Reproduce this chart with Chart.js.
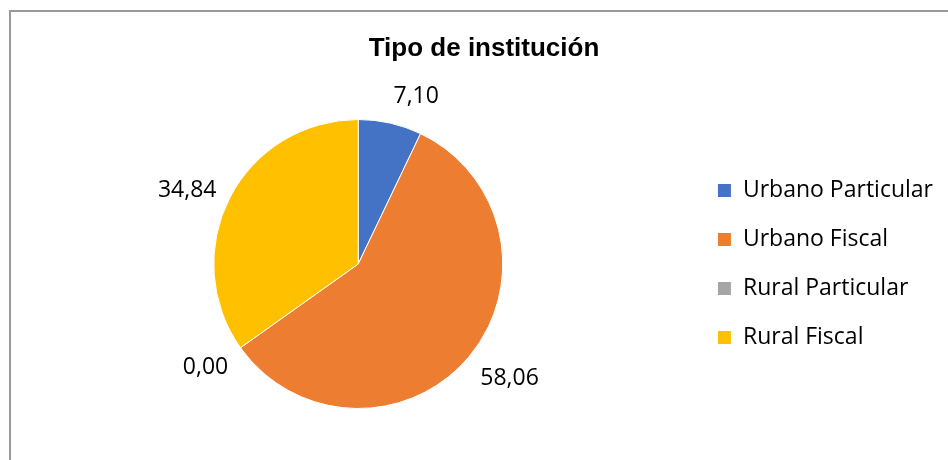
<!DOCTYPE html>
<html>
<head>
<meta charset="utf-8">
<script src="https://cdn.jsdelivr.net/npm/chart.js@4.4.1/dist/chart.umd.min.js"></script>
<style>
    body { margin: 0; background: #fff; }
    #wrap { position: relative; width: 948px; height: 460px; overflow: hidden; }
    #frame { position: absolute; left: 9px; top: 10px; width: 960px; height: 470px;
             border-left: 2px solid #9a9a9a; border-top: 2px solid #9a9a9a; }
    #chart { position: absolute; left: 0; top: 0; }
</style>
</head>
<body>
<div id="wrap">
    <div id="frame"></div>
    <canvas id="chart" width="948" height="460"></canvas>
</div>
<script>
const categories = ['Urbano Particular', 'Urbano Fiscal', 'Rural Particular', 'Rural Fiscal'];
const percentages = [7.10, 58.06, 0.00, 34.84];
const sliceColors = ['#4472C4', '#ED7D31', '#A5A5A5', '#FFC000'];

// labels outside the slices, excel style "7,10"
const outsideLabels = {
    id: 'outsideLabels',
    afterDatasetsDraw(chart) {
        const ctx = chart.ctx;
        const meta = chart.getDatasetMeta(0);
        ctx.save();
        ctx.font = '23px "Open Sans"';
        ctx.fillStyle = '#000';
        meta.data.forEach((arc, i) => {
            const p = arc.getProps(['x', 'y', 'startAngle', 'endAngle', 'outerRadius'], true);
            const mid = (p.startAngle + p.endAngle) / 2;
            const r = p.outerRadius + 15;
            const c = Math.cos(mid), s = Math.sin(mid);
            const x = p.x + c * r;
            const y = p.y + s * r;
            ctx.textAlign = c > 0.1 ? 'left' : (c < -0.1 ? 'right' : 'center');
            ctx.textBaseline = s > 0.5 ? 'top' : (s < -0.5 ? 'bottom' : 'middle');
            ctx.fillText(percentages[i].toFixed(2).replace('.', ','), x, y);
        });
        ctx.restore();
    }
};

const ctx = document.getElementById('chart').getContext('2d');
new Chart(ctx, {
    type: 'pie',
    data: {
        labels: categories,
        datasets: [{
            data: percentages,
            backgroundColor: sliceColors,
            borderColor: '#fff',
            borderWidth: 1
        }]
    },
    options: {
        responsive: false,
        animation: false,
        layout: { padding: { left: 25, right: 5, top: 20, bottom: 51 } },
        plugins: {
            title: {
                display: true,
                text: 'Tipo de institución',
                color: '#000',
                font: { family: '"Liberation Sans", Arial', size: 26, weight: 'bold' },
                padding: { top: 13.4, bottom: 54.4 }
            },
            legend: {
                position: 'right',
                fullSize: false,
                labels: {
                    color: '#000',
                    font: { family: '"Open Sans"', size: 23 },
                    boxWidth: 14,
                    boxHeight: 14,
                    padding: 26
                }
            },
            tooltip: { enabled: false }
        }
    },
    plugins: [outsideLabels]
});
</script>
</body>
</html>
